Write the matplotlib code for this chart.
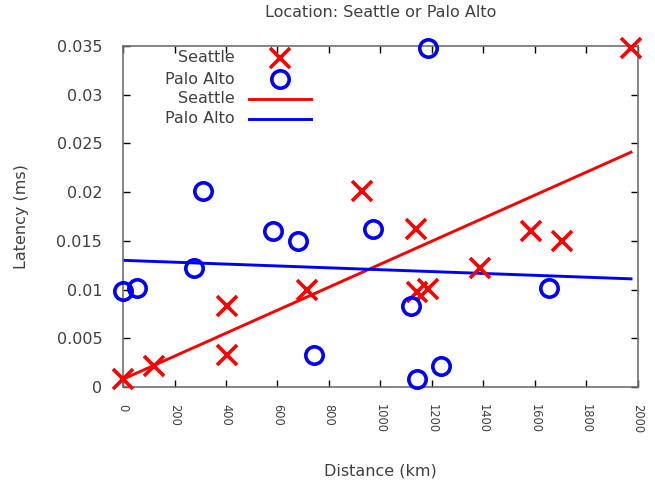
import matplotlib
matplotlib.use("Agg")
import matplotlib.pyplot as plt
from matplotlib.lines import Line2D

title = "Location: Seattle or Palo Alto"
xlabel = "Distance (km)"
ylabel = "Latency (ms)"

seattle_x = [0, 120, 404, 404, 715, 928, 1138, 1142, 1184, 1386, 1584, 1705, 1973]
seattle_y = [0.0008, 0.0022, 0.0083, 0.0033, 0.0100, 0.0201, 0.0162, 0.0098, 0.0101, 0.0122, 0.0160, 0.0150, 0.0348]

palo_x = [0, 54, 276, 311, 583, 680, 742, 971, 1118, 1142, 1184, 1235, 1654]
palo_y = [0.0099, 0.0102, 0.0122, 0.0201, 0.0160, 0.0150, 0.0033, 0.0162, 0.0083, 0.0008, 0.0348, 0.0022, 0.0102]

seattle_fit_x = [0, 1973]
seattle_fit_y = [0.0008, 0.0241]
palo_fit_x = [0, 1973]
palo_fit_y = [0.0130, 0.0111]

xticks = [0, 200, 400, 600, 800, 1000, 1200, 1400, 1600, 1800, 2000]
yticks = [0, 0.005, 0.01, 0.015, 0.02, 0.025, 0.03, 0.035]
ytick_labels = ["0", "0.005", "0.01", "0.015", "0.02", "0.025", "0.03", "0.035"]

legend_labels = ["Seattle", "Palo Alto", "Seattle", "Palo Alto"]

RED = "#ff0000"
BLUE = "#0000ff"
txt = "#404040"
FS = 11.5
X_STYLE = dict(linestyle="none", marker="x", markersize=14, markeredgewidth=2.6, color=RED)
O_STYLE = dict(linestyle="none", marker="o", markersize=12.5, markeredgewidth=2.6,
               markerfacecolor="none", markeredgecolor=BLUE)

fig = plt.figure(figsize=(6.55, 4.83), dpi=100)
ax = fig.add_axes([0.1878, 0.1988, 0.7862, 0.706])

ax.plot(seattle_x, seattle_y, clip_on=False, zorder=3, **X_STYLE)
ax.plot(palo_x, palo_y, clip_on=False, zorder=3, **O_STYLE)
ax.plot(seattle_fit_x, seattle_fit_y, color=RED, linewidth=2.1, zorder=2)
ax.plot(palo_fit_x, palo_fit_y, color=BLUE, linewidth=2.1, zorder=2)

ax.set_xlim(0, 2000)
ax.set_ylim(0, 0.035)
ax.set_xticks(xticks)
ax.set_xticklabels([str(t) for t in xticks], rotation=-90, fontsize=8.3, color=txt)
ax.set_yticks(yticks)
ax.set_yticklabels(ytick_labels, fontsize=FS, color=txt)
ax.tick_params(direction="in", length=5, width=1, top=True, right=True, color="black")
ax.tick_params(axis="x", pad=12)
ax.tick_params(axis="y", pad=15)
for s in ax.spines.values():
    s.set_color("#707070")
    s.set_linewidth(1.2)

ax.set_title(title, fontsize=FS, color=txt, pad=21)
ax.set_xlabel(xlabel, fontsize=FS, color=txt, labelpad=22)
ax.set_ylabel(ylabel, fontsize=FS, color=txt, labelpad=20)

# key (gnuplot style: right-aligned text, samples on the right)
row_y = [0.965, 0.903, 0.845, 0.786]
text_right = 0.2175
samp_x0, samp_x1 = 0.2447, 0.365
samp_mid = 0.305
styles = [("m", X_STYLE), ("m", O_STYLE), ("l", RED), ("l", BLUE)]
for yv, lab, (kind, st) in zip(row_y, legend_labels, styles):
    ax.text(text_right, yv, lab, transform=ax.transAxes, ha="right", va="center",
            fontsize=FS, color=txt)
    if kind == "m":
        ax.add_line(Line2D([samp_mid], [yv], transform=ax.transAxes, clip_on=False, **st))
    else:
        ax.add_line(Line2D([samp_x0, samp_x1], [yv, yv], transform=ax.transAxes,
                           color=st, linewidth=2.1, clip_on=False))

fig.savefig("out.png", dpi=100)
